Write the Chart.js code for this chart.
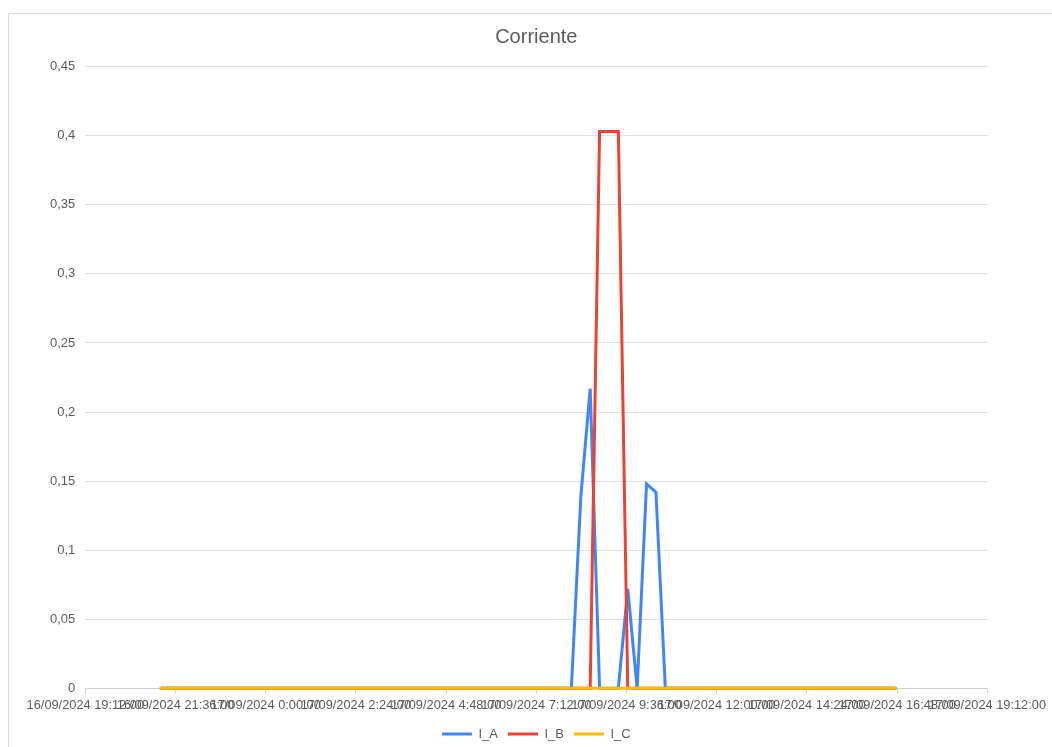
<!DOCTYPE html>
<html>
<head>
<meta charset="utf-8">
<title>Corriente</title>
<script src="https://cdn.jsdelivr.net/npm/chart.js@4.4.1/dist/chart.umd.min.js"></script>
<style>
  html, body { margin: 0; padding: 0; background: #fff; overflow: hidden; }
  #frame { position: absolute; left: 8px; top: 13px; width: 1200px; height: 900px; border: 1px solid #dadada; }
  #myChart { position: absolute; left: 0; top: 0; }
</style>
</head>
<body>
<div id="frame"></div>
<canvas id="myChart" width="1052" height="747"></canvas>
<script>
// readings (dd/mm/yyyy h:mm)
const times = [
  '16/09/2024 21:13',
  '17/09/2024 8:08', '17/09/2024 8:23', '17/09/2024 8:38', '17/09/2024 8:53',
  '17/09/2024 9:08', '17/09/2024 9:23', '17/09/2024 9:38', '17/09/2024 9:53',
  '17/09/2024 10:08', '17/09/2024 10:23', '17/09/2024 10:38',
  '17/09/2024 16:45'
];
const currentA = [0, 0, 0.138, 0.217, 0, 0, 0, 0.072, 0, 0.148, 0.142, 0, 0];
const currentB = [0, 0, 0, 0, 0.403, 0.403, 0.403, 0, 0, 0, 0, 0, 0];
const currentC = [0, 0, 0, 0, 0, 0, 0, 0, 0, 0, 0, 0, 0];

// x axis: minutes since 16/09/2024 0:00
const xMin = 19 * 60 + 12;       // 16/09/2024 19:12
const xMax = 43 * 60 + 12;       // 17/09/2024 19:12
const xStep = 144;               // 2:24

function toMinutes(s) {
  const [d, t] = s.split(' ');
  const day = parseInt(d.split('/')[0], 10);
  const [h, m] = t.split(':').map(Number);
  return (day - 16) * 1440 + h * 60 + m;
}

function fmtTime(v) {
  const day = 16 + Math.floor(v / 1440);
  const rest = v % 1440;
  const h = Math.floor(rest / 60);
  const m = Math.round(rest % 60);
  return day + '/09/2024 ' + h + ':' + String(m).padStart(2, '0') + ':00';
}

function series(values) {
  return times.map((t, i) => ({ x: toMinutes(t), y: values[i] }));
}

const textColor = '#5b5b5b';
const fontFamily = "'Liberation Sans', Arial, sans-serif";

const ctx = document.getElementById('myChart').getContext('2d');

const data = {
  datasets: [
    { label: 'I_A', data: series(currentA), borderColor: '#4285F4', backgroundColor: '#4285F4', order: 2 },
    { label: 'I_B', data: series(currentB), borderColor: '#EA4335', backgroundColor: '#EA4335', order: 1 },
    { label: 'I_C', data: series(currentC), borderColor: '#FBBC04', backgroundColor: '#FBBC04', order: 0 }
  ]
};
data.datasets.forEach(ds => {
  ds.borderWidth = 3;
  ds.pointRadius = 0;
  ds.pointHoverRadius = 0;
  ds.tension = 0;
  ds.fill = false;
  ds.clip = 4;
  ds.borderCapStyle = 'round';
});

const config = {
  type: 'line',
  data: data,
  options: {
    responsive: false,
    animation: false,
    devicePixelRatio: 1,
    layout: { padding: { left: 0, right: 64.7, top: 0, bottom: -3.5 } },
    plugins: {
      tooltip: { enabled: false },
      title: {
        display: true,
        text: 'Corriente',
        fullSize: false,
        color: textColor,
        font: { family: fontFamily, size: 20, weight: 'normal' },
        padding: { top: 25.5, bottom: 17.2 }
      },
      legend: {
        position: 'bottom',
        fullSize: false,
        labels: {
          usePointStyle: true,
          pointStyle: 'line',
          pointStyleWidth: 30,
          padding: 10,
          color: textColor,
          font: { family: fontFamily, size: 13 },
          sort: (a, b) => a.datasetIndex - b.datasetIndex
        }
      }
    },
    scales: {
      x: {
        type: 'linear',
        min: xMin,
        max: xMax,
        afterFit: s => { s.height = 29.2; },
        grid: { display: true, drawOnChartArea: false, drawTicks: true, tickLength: 5, color: '#d0d0d0' },
        border: { display: true, color: '#d0d0d0' },
        ticks: {
          stepSize: xStep,
          autoSkip: false,
          maxRotation: 0,
          minRotation: 0,
          padding: 4,
          color: textColor,
          font: { family: fontFamily, size: 12.8 },
          callback: v => fmtTime(v)
        }
      },
      y: {
        min: 0,
        max: 0.45,
        afterFit: s => { s.width = 85.3; },
        grid: { color: '#e0e0e0', drawTicks: false },
        border: { display: false },
        ticks: {
          stepSize: 0.05,
          padding: 10,
          color: textColor,
          font: { family: fontFamily, size: 13 },
          callback: v => String(Number(v.toFixed(2))).replace('.', ',')
        }
      }
    }
  }
};

const myChart = new Chart(ctx, config);
</script>
</body>
</html>
